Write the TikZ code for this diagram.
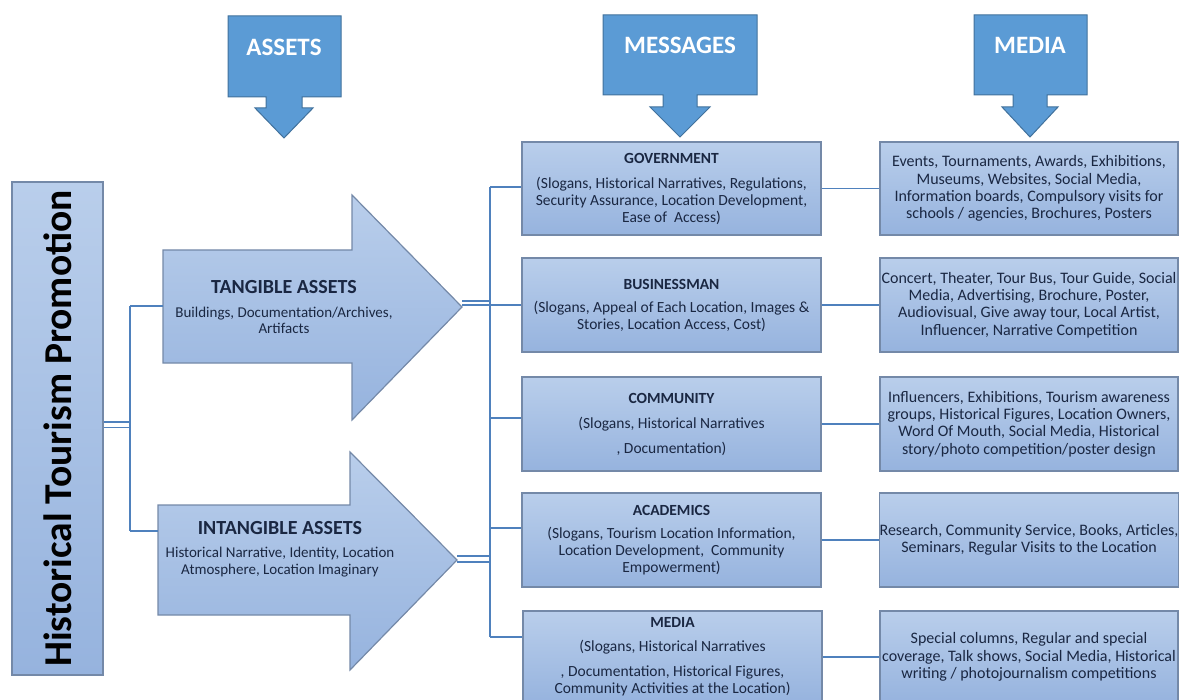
\documentclass[tikz,border=0pt]{standalone}
\usepackage{fontspec}
\setmainfont{Carlito}
\definecolor{boxtop}{HTML}{B9CEEB}
\definecolor{boxbot}{HTML}{96B3DE}
\definecolor{boxline}{HTML}{7489A8}
\definecolor{callfill}{HTML}{5B9BD5}
\definecolor{callline}{HTML}{41719C}
\definecolor{connc}{HTML}{4F81BD}
\definecolor{txt}{HTML}{1A2742}
\begin{document}
\begin{tikzpicture}[x=1pt,y=-1pt,
  conn/.style={draw=connc, line width=1.9pt},
  boxbase/.style={draw=boxline, line width=1.2pt, top color=boxtop, bottom color=boxbot},
  msg/.style={boxbase, minimum width=299pt, minimum height=94pt, inner sep=0pt, align=center, text=txt, font=\fontsize{15.5}{17}\selectfont},
  med/.style={boxbase, minimum width=298pt, minimum height=94pt, inner sep=0pt, align=center, text=txt, font=\fontsize{16}{17.3}\selectfont},
  callout/.style={fill=callfill, draw=callline, line width=1pt},
  calltext/.style={text=white, font=\fontsize{25}{28}\selectfont\bfseries, inner sep=0pt},
  arrtext/.style={text=txt, align=center, inner sep=0pt, font=\fontsize{15}{16.5}\selectfont},
]
\useasboundingbox (0,0) rectangle (1182,700);

% top callouts
\path[callout] (228,16) -- (341,16) -- (341,97) -- (302,97) -- (302,108) -- (313,108) -- (284,138) -- (255,108) -- (266,108) -- (266,97) -- (228,97) -- cycle;
\node[calltext] (assets) at (284,47) {ASSETS};
\path[callout] (603,15) -- (757,15) -- (757,95) -- (697,95) -- (697,107) -- (710,107) -- (680,137) -- (650,107) -- (663,107) -- (663,95) -- (603,95) -- cycle;
\node[calltext] (messages) at (680,45) {MESSAGES};
\path[callout] (974,15) -- (1087,15) -- (1087,95) -- (1047,95) -- (1047,107) -- (1058,107) -- (1030,137) -- (1002,107) -- (1013,107) -- (1013,95) -- (974,95) -- cycle;
\node[calltext] (media) at (1030,45) {MEDIA};

% title box
\node[boxbase, minimum width=91pt, minimum height=493pt, inner sep=0pt] (title) at (57.5,428.5) {};
\node[rotate=90, inner sep=0pt, text=black, font=\fontsize{39.5}{41}\selectfont\bfseries] (titletext) at (title.center) {Historical Tourism Promotion};

% big arrows
\path[boxbase] (163,250) -- (352,250) -- (352,195) -- (462,307) -- (352,420) -- (352,363) -- (163,363) -- cycle;
\coordinate (tangL) at (163,306);
\coordinate (tangT) at (462,307);
\node[arrtext] (tangtext) at (284,307) {{\fontsize{20}{22}\selectfont\bfseries TANGIBLE ASSETS}\\[7pt] Buildings, Documentation/Archives,\\ Artifacts};
\path[boxbase] (158,505) -- (350,505) -- (350,452) -- (457,560) -- (350,670) -- (350,615) -- (158,615) -- cycle;
\coordinate (intL) at (158,531);
\coordinate (intT) at (457,560);
\node[arrtext] (inttext) at (280,549) {{\fontsize{20}{22}\selectfont\bfseries INTANGIBLE ASSETS}\\[7pt] Historical Narrative, Identity, Location\\ Atmosphere, Location Imaginary};

% message boxes
\node[msg, minimum height=93pt] (mgov) at (671.5,188.5) {\textbf{GOVERNMENT}\\[8pt] (Slogans, Historical Narratives, Regulations,\\ Security Assurance, Location Development,\\ Ease of\ \ Access)};
\node[msg] (mbus) at (671.5,305) {\textbf{BUSINESSMAN}\\[6pt] (Slogans, Appeal of Each Location, Images \&\\ Stories, Location Access, Cost)};
\node[msg] (mcom) at (671.5,424) {\textbf{COMMUNITY}\\[8pt] (Slogans, Historical Narratives\\[8pt] , Documentation)};
\node[msg] (macad) at (671.5,540) {\textbf{ACADEMICS}\\[6pt] (Slogans, Tourism Location Information,\\ Location Development,\ \ Community\\ Empowerment)};
\node[msg, minimum height=92pt] (mmed) at (672.5,657) {\textbf{MEDIA}\\[7pt] (Slogans, Historical Narratives\\[8pt] , Documentation, Historical Figures,\\ Community Activities at the Location)};

% media boxes
\node[med, minimum height=93pt] (dgov) at (1029,188.5) {Events, Tournaments, Awards, Exhibitions,\\ Museums, Websites, Social Media,\\ Information boards, Compulsory visits for\\ schools / agencies, Brochures, Posters};
\node[med] (dbus) at (1029,305) {Concert, Theater, Tour Bus, Tour Guide, Social\\ Media, Advertising, Brochure, Poster,\\ Audiovisual, Give away tour, Local Artist,\\ Influencer, Narrative Competition};
\node[med] (dcom) at (1029,424) {Influencers, Exhibitions, Tourism awareness\\ groups, Historical Figures, Location Owners,\\ Word Of Mouth, Social Media, Historical\\ story/photo competition/poster design};
\node[med] (dacad) at (1029,540) {Research, Community Service, Books, Articles,\\ Seminars, Regular Visits to the Location};
\node[med, minimum height=92pt] (dmed) at (1029,657) {Special columns, Regular and special\\ coverage, Talk shows, Social Media, Historical\\ writing / photojournalism competitions};

% connectors: title to assets
\coordinate (ja) at (130,306);
\coordinate (jb) at (130,531);
\draw[conn] (title.east |- 0,422) -- (ja |- 0,422);
\draw[conn] (title.east |- 0,427.5) -- (ja |- 0,427.5);
\draw[conn] (ja) -- (jb);
\draw[conn] (ja) -- (tangL);
\draw[conn] (jb) -- (intL);

% connectors: assets to messages
\coordinate (jt) at (490,187);
\coordinate (jm) at (490,637);
\draw[conn] (jt) -- (jm);
\draw[conn] (tangT |- 0,301) -- (jt |- 0,301);
\draw[conn] (tangT |- 0,305) -- (mbus.west);
\draw[conn] (intT |- 0,556) -- (jt |- 0,556);
\draw[conn] (intT |- 0,562) -- (jt |- 0,562);
\draw[conn] (jt) -- (mgov.west |- jt);
\draw[conn] (jt |- 0,418) -- (mcom.west |- 0,418);
\draw[conn] (jt |- 0,528) -- (macad.west |- 0,528);
\draw[conn] (jm) -- (mmed.west |- jm);

% connectors: messages to media
\draw[conn] (mgov.east) -- (dgov.west);
\draw[conn] (mbus.east) -- (dbus.west);
\draw[conn] (mcom.east) -- (dcom.west);
\draw[conn] (macad.east) -- (dacad.west);
\draw[conn] (mmed.east) -- (dmed.west);
\end{tikzpicture}
\end{document}
